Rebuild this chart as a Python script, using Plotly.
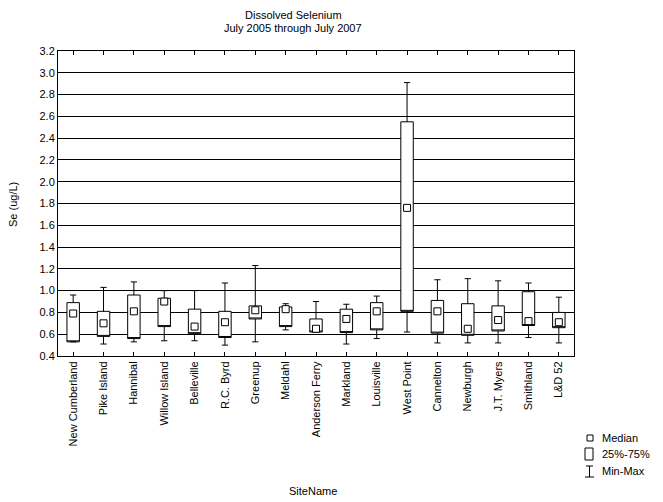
import plotly.graph_objects as go

sites = ["New Cumberland", "Pike Island", "Hannibal", "Willow Island", "Belleville",
         "R.C. Byrd", "Greenup", "Meldahl", "Anderson Ferry", "Markland", "Louisville",
         "West Point", "Cannelton", "Newburgh", "J.T. Myers", "Smithland", "L&D 52"]
mins    = [0.53, 0.51, 0.53, 0.54, 0.54, 0.50, 0.53, 0.64, 0.62, 0.51, 0.56, 0.62, 0.52, 0.52, 0.52, 0.57, 0.52]
q1s     = [0.53, 0.58, 0.56, 0.67, 0.605, 0.57, 0.74, 0.67, 0.62, 0.615, 0.64, 0.81, 0.61, 0.59, 0.63, 0.68, 0.66]
medians = [0.79, 0.70, 0.81, 0.90, 0.67, 0.71, 0.82, 0.83, 0.65, 0.74, 0.81, 1.76, 0.81, 0.65, 0.73, 0.72, 0.71]
q3s     = [0.89, 0.81, 0.96, 0.93, 0.83, 0.81, 0.86, 0.85, 0.74, 0.83, 0.89, 2.55, 0.91, 0.88, 0.86, 0.99, 0.80]
maxs    = [0.96, 1.03, 1.08, 1.00, 1.00, 1.07, 1.23, 0.88, 0.90, 0.875, 0.95, 2.91, 1.10, 1.11, 1.09, 1.07, 0.94]
y_ticks = [0.4, 0.6, 0.8, 1.0, 1.2, 1.4, 1.6, 1.8, 2.0, 2.2, 2.4, 2.6, 2.8, 3.0, 3.2]

FONT = "Liberation Sans, Arial, sans-serif"
W, H = 663, 502
L, R, T, B = 58, 89, 51, 146
PW, PH = W - L - R, H - T - B

def px(x):
    return (x - L) / PW

def py(y):
    return (H - B - y) / PH

fig = go.Figure()
fig.add_trace(go.Box(
    x=sites, q1=q1s, median=q1s, q3=q3s, lowerfence=mins, upperfence=maxs,
    boxpoints=False, width=0.41, whiskerwidth=0.5,
    fillcolor="white", line=dict(color="black", width=1),
    hoverinfo="skip", showlegend=False,
))
fig.add_trace(go.Scatter(
    x=sites, y=medians, mode="markers",
    marker=dict(symbol="square", size=7, color="white", line=dict(color="black", width=1)),
    hoverinfo="skip", showlegend=False,
))

fig.update_layout(
    width=W, height=H,
    margin=dict(l=L, r=R, t=T, b=B),
    paper_bgcolor="white", plot_bgcolor="white",
    font=dict(family=FONT, size=11, color="black"),
    showlegend=False,
    xaxis=dict(
        type="category", range=[-0.5, len(sites) - 0.5],
        tickangle=-90, ticks="inside", ticklen=4, tickcolor="black",
        showline=True, linecolor="black", linewidth=1, mirror="ticks",
        showgrid=False, zeroline=False, tickfont=dict(size=11), automargin=False,
    ),
    yaxis=dict(
        range=[0.4, 3.2], tickvals=y_ticks, tickformat=".1f",
        ticks="inside", ticklen=4, tickcolor="black",
        showline=True, linecolor="black", linewidth=1, mirror="ticks",
        showgrid=True, gridcolor="black", gridwidth=1, zeroline=False,
        tickfont=dict(size=11), automargin=False,
    ),
)

ann = [
    dict(text="Dissolved Selenium", x=px(293), y=py(15)),
    dict(text="July 2005 through July 2007", x=px(293), y=py(28)),
    dict(text="SiteName", x=px(313), y=py(491)),
]
for a in ann:
    fig.add_annotation(xref="paper", yref="paper", showarrow=False,
                       xanchor="center", yanchor="middle", font=dict(size=11), **a)
fig.add_annotation(text="Se (ug/L)", xref="paper", yref="paper", x=px(13), y=py(205),
                   textangle=-90, showarrow=False, xanchor="center", yanchor="middle",
                   font=dict(size=11))

# legend
leg = [("Median", 438), ("25%-75%", 454), ("Min-Max", 471)]
for txt, yy in leg:
    fig.add_annotation(text=txt, xref="paper", yref="paper", x=px(600), y=py(yy),
                       showarrow=False, xanchor="left", yanchor="middle", font=dict(size=11))
line = dict(color="black", width=1)
fig.add_shape(type="rect", xref="paper", yref="paper", x0=px(587), x1=px(593), y0=py(441), y1=py(435), line=line)
fig.add_shape(type="rect", xref="paper", yref="paper", x0=px(585), x1=px(593), y0=py(460), y1=py(448), line=line)
fig.add_shape(type="line", xref="paper", yref="paper", x0=px(589.5), x1=px(589.5), y0=py(477), y1=py(466), line=line)
fig.add_shape(type="line", xref="paper", yref="paper", x0=px(586), x1=px(593), y0=py(466), y1=py(466), line=line)
fig.add_shape(type="line", xref="paper", yref="paper", x0=px(585), x1=px(594), y0=py(477), y1=py(477), line=line)

fig.write_html("out.html", config={"displayModeBar": False},
               post_script="document.body.style.margin='0';document.body.style.overflow='hidden';")
